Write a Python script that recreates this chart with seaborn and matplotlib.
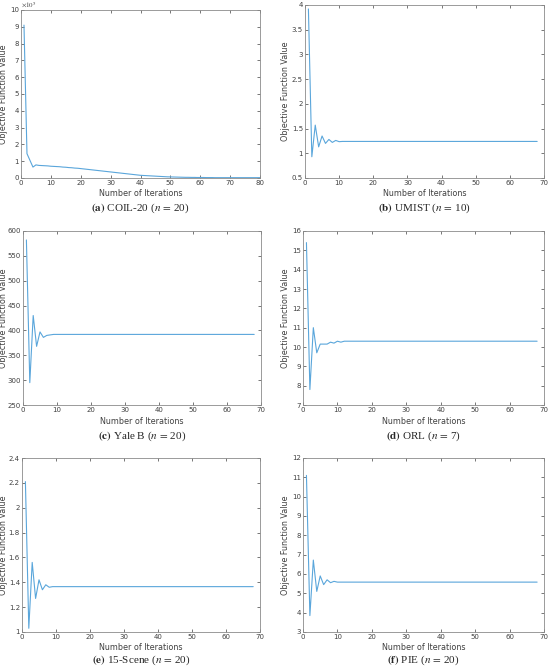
import matplotlib
matplotlib.use("Agg")
import matplotlib.pyplot as plt
import seaborn as sns
import pandas as pd
import numpy as np

sns.set_theme(style="white")
plt.rcParams['font.family'] = ['DejaVu Sans']
plt.rcParams['mathtext.fontset'] = 'stix'

# ---- data ----
coil_vals = [9.1, 1.45, 1.05, 0.65, 0.78, 0.75, 0.74, 0.73, 0.72, 0.70,
             0.69, 0.68, 0.67, 0.65, 0.64, 0.62, 0.61, 0.59, 0.58, 0.56,
             0.54, 0.52, 0.50, 0.48, 0.46, 0.44, 0.42, 0.40, 0.38, 0.36,
             0.34, 0.32, 0.30, 0.28, 0.26, 0.24, 0.22, 0.20, 0.18, 0.16,
             0.15, 0.14, 0.13, 0.12, 0.11, 0.10, 0.09, 0.08, 0.07, 0.065,
             0.06, 0.055, 0.05, 0.045, 0.04, 0.04, 0.035, 0.035, 0.03, 0.03,
             0.03, 0.025, 0.025, 0.025, 0.02, 0.02, 0.02, 0.02, 0.02, 0.02,
             0.02, 0.02, 0.02, 0.02, 0.02, 0.02, 0.02, 0.02, 0.02, 0.02]
umist_vals = [3.92, 0.93, 1.57, 1.13, 1.35, 1.20, 1.28, 1.22, 1.26, 1.235] + [1.24] * 58
yale_vals = [582, 295, 430, 368, 397, 386, 390, 391, 392, 392] + [392] * 58
orl_vals = [15.4, 7.8, 11.0, 9.7, 10.15, 10.15, 10.15, 10.25, 10.2, 10.3, 10.25, 10.3] + [10.3] * 56
scene_vals = [2.21, 1.03, 1.56, 1.27, 1.42, 1.34, 1.38, 1.36, 1.365, 1.365] + [1.365] * 58
pie_vals = [11.1, 3.85, 6.72, 5.1, 5.9, 5.45, 5.7, 5.55, 5.62, 5.58] + [5.58] * 58

series = [coil_vals, umist_vals, yale_vals, orl_vals, scene_vals, pie_vals]
captions = [("(a)", "COIL-20", "20"), ("(b)", "UMIST", "10"), ("(c)", "Yale B", "20"),
            ("(d)", "ORL", "7"), ("(e)", "15-Scene", "20"), ("(f)", "PIE", "20")]
xlims = [(0, 80), (0, 70), (0, 70), (0, 70), (0, 70), (0, 70)]
ylims = [(0, 10), (0.5, 4), (250, 600), (7, 16), (1, 2.4), (3, 12)]
yticks = [np.arange(0, 11, 1), np.arange(0.5, 4.01, 0.5), np.arange(250, 601, 50),
          np.arange(7, 17, 1), np.arange(1, 2.41, 0.2), np.arange(3, 13, 1)]
ytick_labels = [[str(int(v)) for v in yticks[0]],
                ["0.5", "1", "1.5", "2", "2.5", "3", "3.5", "4"],
                [str(int(v)) for v in yticks[2]],
                [str(int(v)) for v in yticks[3]],
                ["1", "1.2", "1.4", "1.6", "1.8", "2", "2.2", "2.4"],
                [str(int(v)) for v in yticks[5]]]

W, H = 550, 670
fig = plt.figure(figsize=(5.5, 6.7), dpi=100)

# axes boxes in pixels: left, top, right, bottom
boxes = [(21, 10, 260, 178), (305, 5, 544, 178),
         (23, 231, 261, 405), (303, 231, 544, 405),
         (22, 458, 260, 632), (303, 458, 544, 632)]
ylabel_x = [8, 290, 8, 290, 8, 290]
caption_y = [208, 208, 436, 436, 660, 660]

line_color = "#5aa6db"
spine_color = "#8a8a8a"
text_color = "#404040"

for i, (vals, box) in enumerate(zip(series, boxes)):
    l, t, r, b = box
    ax = fig.add_axes([l / W, 1 - b / H, (r - l) / W, (b - t) / H])
    df = pd.DataFrame({"iter": np.arange(1, len(vals) + 1), "val": vals})
    sns.lineplot(data=df, x="iter", y="val", ax=ax, color=line_color, linewidth=0.8)
    ax.set_xlim(*xlims[i])
    ax.set_ylim(*ylims[i])
    ax.set_xticks(np.arange(xlims[i][0], xlims[i][1] + 1, 10))
    ax.set_yticks(yticks[i])
    ax.set_yticklabels(ytick_labels[i])
    ax.tick_params(direction="in", length=2.5, width=0.5, labelsize=5,
                   colors=text_color, pad=1.5, top=True, right=True,
                   bottom=True, left=True)
    ax.tick_params(labeltop=False, labelright=False)
    for s in ax.spines.values():
        s.set_color(spine_color)
        s.set_linewidth(0.6)
    ax.set_xlabel("Number of Iterations", fontsize=5.8, color=text_color)
    ax.set_ylabel("Objective Function Value", fontsize=5.8, color=text_color)
    ax.xaxis.set_label_coords(0.5, -11.5 / (b - t))
    ax.yaxis.set_label_coords((ylabel_x[i] - l) / (r - l), 0.5)
    if i == 0:
        ax.text(0.0, 1.0, r"$\times10^5$", transform=ax.transAxes, fontsize=5,
                color=text_color, ha="left", va="bottom")
    lab, name, n = captions[i]
    cx = (l + r) / 2 / W
    fig.text(cx, 1 - caption_y[i] / H,
             r"$\mathbf{" + lab + r"}$ " + name + r" ($n\,=\,$" + n + ")",
             ha="center", va="center", fontsize=8, family="Liberation Serif")

fig.savefig("out.png", dpi=100, facecolor="white")
